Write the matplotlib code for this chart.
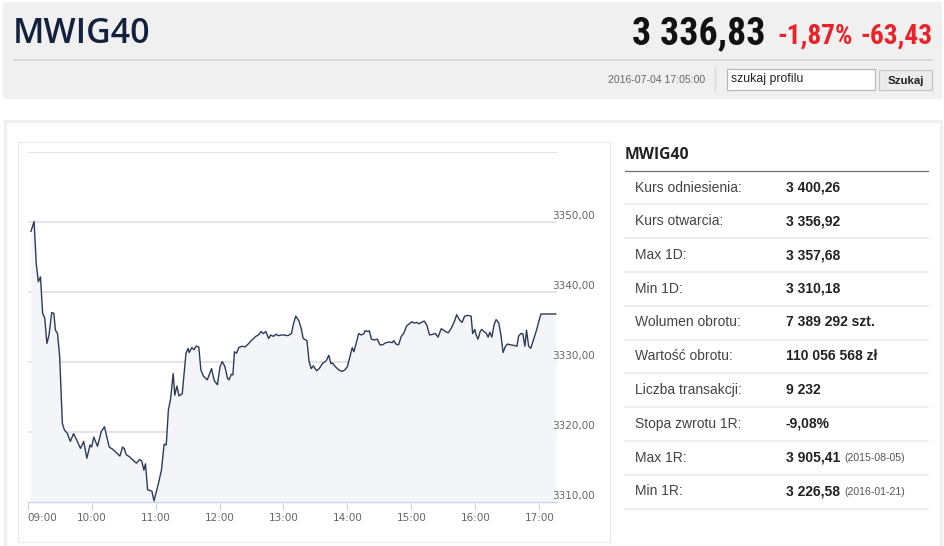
import matplotlib
matplotlib.use("Agg")
import matplotlib.pyplot as plt
from matplotlib import font_manager
from matplotlib.patches import Rectangle

# ---------------- data ----------------
index_name = "MWIG40"
last_price = "3 336,83"
change_pct = "-1,87%"
change_abs = "-63,43"
timestamp = "2016-07-04 17:05:00"
search_placeholder = "szukaj profilu"
search_button = "Szukaj"

# minutes after 09:00
minutes = [3, 6, 8, 10, 12, 14, 16, 18, 20, 22.5, 24.5, 26, 28, 30, 32.5, 34.5, 37, 40, 43, 46,
           49.5, 52.5, 55.5, 58.5, 60, 62, 65.5, 69, 72, 76.5, 79.5, 82.5, 86.5, 89, 90.5, 92.5,
           95.5, 99, 102, 105, 107, 109, 110.5, 112.5, 116.5, 118.5, 122.5, 125.5, 128, 130, 132,
           134, 136.5, 138, 140, 142, 145, 148.5, 150.5, 151.5, 154, 156, 158, 160.5, 162.5, 165,
           168.5, 172.5, 175, 178, 180.5, 182.5, 185, 187.5, 189, 191, 192.5, 194, 196, 198, 201,
           204, 207.5, 208.5, 210.5, 214, 216.5, 219, 221, 223.5, 226, 228, 230.5, 233, 235.5, 238,
           241, 244, 247.5, 249, 251.5, 254.5, 256.5, 258.5, 262, 264, 266, 268, 271, 273.5, 277,
           280, 282.5, 284.5, 286, 288.5, 292, 295, 297.5, 300, 302.5, 304.5, 306, 308.5, 310.5,
           313, 315.5, 316.5, 319.5, 320.5, 322.5, 325, 328, 330.5, 333, 336, 339.5, 342, 343.5,
           345.5, 348, 350.5, 353, 355.5, 358, 360.5, 362.5, 365, 367, 369.5, 372, 374.5, 377, 380,
           382.5, 385, 388, 391, 394.5, 397.5, 400.5, 402.5, 405, 407.5, 410, 413, 416, 417.5,
           419.5, 420.5, 422.5, 424.5, 426, 428, 430, 432, 433.5, 435.5, 437.5, 439.5, 442, 444,
           446, 448, 450, 453, 456.5, 459, 460.5, 462.5, 464.5, 466.5, 468, 470, 472, 477, 481.5,
           487, 495.5]
values = [3348.7, 3350.1, 3344.1, 3341.5, 3342.2, 3337.0, 3336.3, 3332.7, 3333.9, 3337.1, 3337.0,
          3334.6, 3334.1, 3330.8, 3321.3, 3320.3, 3319.9, 3318.7, 3319.8, 3318.9, 3317.7, 3318.7,
          3316.3, 3318.2, 3317.9, 3319.3, 3318.0, 3320.1, 3320.8, 3317.9, 3317.6, 3317.2, 3316.6,
          3317.9, 3317.7, 3316.8, 3316.5, 3316.0, 3315.6, 3316.1, 3315.9, 3314.6, 3315.5, 3311.8,
          3311.6, 3310.2, 3312.6, 3314.6, 3318.3, 3318.2, 3323.2, 3324.7, 3328.4, 3325.3, 3326.6,
          3325.2, 3325.5, 3331.3, 3332.0, 3331.4, 3332.1, 3331.8, 3332.3, 3332.2, 3328.9, 3328.0,
          3327.5, 3329.1, 3327.4, 3326.8, 3329.4, 3330.1, 3329.4, 3327.7, 3327.5, 3328.3, 3328.2,
          3331.5, 3331.3, 3332.1, 3332.3, 3332.2, 3332.7, 3332.9, 3333.2, 3333.7, 3333.9, 3334.4,
          3334.1, 3334.4, 3333.4, 3333.9, 3333.7, 3334.0, 3333.8, 3333.9, 3333.9, 3333.8, 3334.1,
          3335.3, 3336.6, 3335.9, 3334.9, 3333.4, 3333.1, 3330.1, 3329.1, 3329.5, 3328.8, 3329.1,
          3329.9, 3330.2, 3331.0, 3329.8, 3329.9, 3329.4, 3328.9, 3328.7, 3328.9, 3329.4, 3330.9,
          3332.1, 3331.5, 3332.9, 3334.1, 3333.9, 3334.1, 3334.5, 3334.4, 3334.5, 3333.3, 3333.2,
          3333.3, 3332.5, 3332.5, 3332.8, 3332.9, 3332.8, 3333.1, 3332.6, 3332.5, 3333.7, 3334.2,
          3335.2, 3335.5, 3335.8, 3335.6, 3335.7, 3335.5, 3335.7, 3335.9, 3335.3, 3333.9, 3334.0,
          3334.1, 3333.6, 3334.8, 3334.5, 3334.2, 3334.9, 3335.9, 3336.8, 3336.1, 3335.7, 3336.6,
          3336.7, 3336.6, 3334.1, 3334.7, 3334.0, 3333.3, 3334.4, 3334.7, 3334.4, 3334.2, 3333.6,
          3334.3, 3333.6, 3335.3, 3336.1, 3335.6, 3333.9, 3331.4, 3332.2, 3332.6, 3332.5, 3332.4,
          3332.3, 3333.7, 3334.1, 3334.1, 3332.3, 3334.6, 3332.3, 3332.0, 3334.4, 3336.9, 3336.9,
          3336.9]

x_tick_minutes = [0, 60, 120, 180, 240, 300, 360, 420, 480]
x_tick_labels = ["09:00", "10:00", "11:00", "12:00", "13:00", "14:00", "15:00", "16:00", "17:00"]
y_ticks = [3310, 3320, 3330, 3340, 3350, 3360]
y_tick_labels = ["3310,00", "3320,00", "3330,00", "3340,00", "3350,00"]

table_title = "MWIG40"
table_labels = ["Kurs odniesienia:", "Kurs otwarcia:", "Max 1D:", "Min 1D:", "Wolumen obrotu:",
                "Wartość obrotu:", "Liczba transakcji:", "Stopa zwrotu 1R:", "Max 1R:", "Min 1R:"]
table_values = ["3 400,26", "3 356,92", "3 357,68", "3 310,18", "7 389 292 szt.",
                "110 056 568 zł", "9 232", "-9,08%", "3 905,41", "3 226,58"]
table_dates = ["", "", "", "", "", "", "", "", "(2015-08-05)", "(2016-01-21)"]

# ---------------- fonts ----------------
available = {f.name for f in font_manager.fontManager.ttflist}
def pick(*names):
    for n in names:
        if n in available:
            return n
    return "DejaVu Sans"

ARIAL = pick("Liberation Sans", "Arimo", "DejaVu Sans")
NARROW = pick("Liberation Sans Narrow", "Roboto Condensed", "Roboto")
if NARROW == "Liberation Sans Narrow":
    price_size, change_size = 26.5, 20.0
else:
    price_size, change_size = 27.3, 19.7
TITLE = pick("Open Sans", "Lato", "DejaVu Sans")

W, H = 945, 546
fig = plt.figure(figsize=(W / 100, H / 100), dpi=100)
fig.patch.set_facecolor("white")

# overlay axes in pixel coordinates
bg = fig.add_axes([0, 0, 1, 1])
bg.set_xlim(0, W)
bg.set_ylim(H, 0)
bg.axis("off")
bg.set_zorder(0)

# header
bg.add_patch(Rectangle((3, 2), 939, 97, facecolor="#f0f0f0", edgecolor="none"))
bg.plot([14, 932], [59.5, 59.5], color="#d4d4d4", lw=1.2)
bg.text(13, 43, index_name, fontsize=24.5, fontweight="semibold", family=TITLE,
        color="#14213d", va="baseline", ha="left")
bg.text(765, 44, last_price, fontsize=price_size, fontweight="bold", family=NARROW,
        color="#111111", va="baseline", ha="right")
bg.text(853, 44, change_pct, fontsize=change_size, fontweight="bold", family=NARROW,
        color="#e8232a", va="baseline", ha="right")
bg.text(933, 44, change_abs, fontsize=change_size, fontweight="bold", family=NARROW,
        color="#e8232a", va="baseline", ha="right")
bg.text(705, 80, timestamp, fontsize=7.6, family=ARIAL, color="#666666", va="center", ha="right")
bg.plot([714.5, 714.5], [67, 91], color="#dadada", lw=1)
bg.add_patch(Rectangle((727, 69), 148, 21, facecolor="white", edgecolor="#b5b5b5", lw=0.8))
bg.text(731, 79, search_placeholder, fontsize=8.8, family=ARIAL, color="#222222",
        va="center", ha="left")
bg.add_patch(Rectangle((879, 70), 53, 20, facecolor="#ececec", edgecolor="#c4c4c4", lw=0.8))
bg.text(905.5, 80.5, search_button, fontsize=8.2, family=ARIAL, fontweight="bold",
        color="#222222", va="center", ha="center")

# content boxes
bg.add_patch(Rectangle((4.5, 120.5), 936.5, 440, facecolor="white", edgecolor="#efefef", lw=2.2))
bg.add_patch(Rectangle((17.5, 141.5), 592, 400, facecolor="white", edgecolor="#ebebeb", lw=1.0))

# table
bg.text(625, 155, table_title, fontsize=11.3, fontweight="bold", family=TITLE,
        color="#222222", va="center", ha="left")
bg.plot([625, 928], [170.7, 170.7], color="#707070", lw=0.9)
for i, (lab, val, dt) in enumerate(zip(table_labels, table_values, table_dates)):
    yc = 187.5 + i * 33.75
    bg.text(635, yc, lab, fontsize=10.0, family=ARIAL, color="#444444", va="center", ha="left")
    t = bg.text(786, yc, val, fontsize=10.0, family=ARIAL, fontweight="bold",
                color="#222222", va="center", ha="left")
    if dt:
        bg.annotate(dt, xy=(1, 0.5), xycoords=t, xytext=(4, -0.5), textcoords="offset pixels",
                    fontsize=7.6, family=ARIAL, color="#555555", va="center", ha="left")
    ys = 204.3 + i * 33.8
    bg.plot([625, 928], [ys, ys], color="#eeeeee", lw=1.4)

# ---------------- chart ----------------
left_px, right_px = 27.7, 557
top_px, bottom_px = 152.3, 502.3
ax = fig.add_axes([left_px / W, (H - bottom_px) / H, (right_px - left_px) / W,
                   (bottom_px - top_px) / H])
ax.set_zorder(2)
ax.patch.set_alpha(0)
ax.set_xlim(0, (right_px - left_px) * 60 / 63.95)
ax.set_ylim(3310, 3360)

ax.fill_between(minutes, values, 3310, color="#f3f5f8", lw=0, zorder=1)
for yv in y_ticks[1:]:
    ax.axhline(yv, color="#dcdcdc", lw=1.1, zorder=0)
ax.plot(minutes, values, color="#2c3b57", lw=1.0, zorder=3, solid_joinstyle="round")

for s in ["top", "right", "left"]:
    ax.spines[s].set_visible(False)
ax.spines["bottom"].set_color("#ccd6eb")
ax.spines["bottom"].set_linewidth(1.0)
ax.set_yticks([])
ax.set_xticks(x_tick_minutes)
ax.set_xticklabels(x_tick_labels)
ax.tick_params(axis="x", direction="out", length=6, width=0.8, color="#ccd6eb",
               pad=1.5, labelsize=7.5, labelcolor="#666666")
ax.get_xticklabels()[0].set_ha("left")

for yv, lab in zip(y_ticks, y_tick_labels):
    ax.annotate(lab, xy=(1, yv), xycoords=("axes fraction", "data"), xytext=(-5, 6),
                textcoords="offset pixels", fontsize=7.5, color="#666666",
                ha="left", va="center", annotation_clip=False)

fig.savefig("out.png", dpi=100, facecolor="white")
